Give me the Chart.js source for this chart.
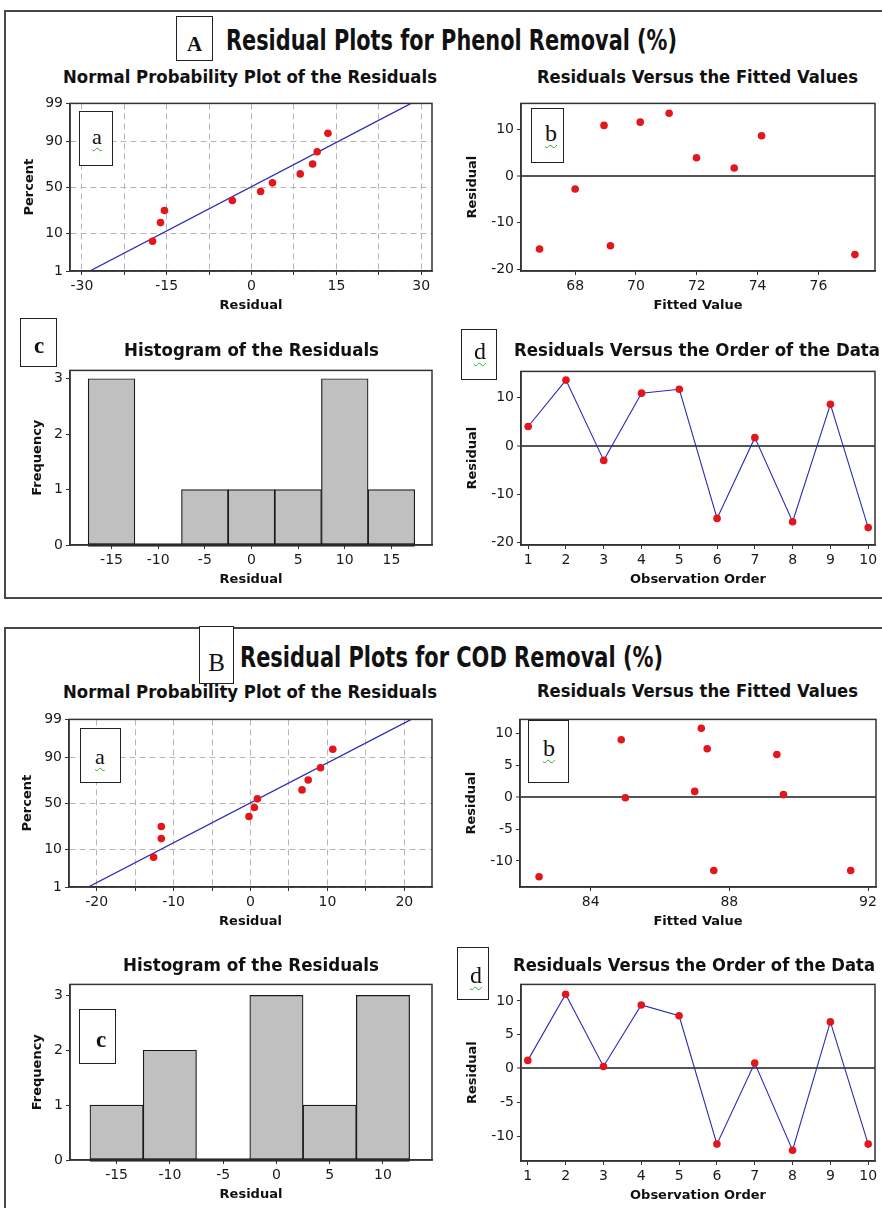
<!DOCTYPE html>
<html><head><meta charset="utf-8">
<script src="https://cdn.jsdelivr.net/npm/chart.js@4.4.1/dist/chart.umd.min.js"></script>
<style>
html,body{margin:0;padding:0;background:#fff;width:882px;height:1208px;overflow:hidden;position:relative;}
.frame{position:absolute;border:2px solid #484848;box-sizing:border-box;}
canvas{position:absolute;z-index:1;}
.lbl{position:absolute;white-space:nowrap;transform-origin:left top;color:#111;z-index:3;}
.box{position:absolute;border:1.5px solid #222;background:#fff;box-sizing:border-box;z-index:2;}
.sq{text-decoration-line:underline;text-decoration-style:wavy;text-decoration-color:#3aa53a;text-decoration-thickness:1px;text-underline-offset:3px;}
</style></head><body>
<script>
// ---------------- DATA ----------------
const nppPctTicks = [1, 10, 50, 90, 99];
const nppPercent  = [6.7, 16.3, 25.9, 35.6, 45.2, 54.8, 64.4, 74.0, 83.7, 93.3];
const orderObs    = [1, 2, 3, 4, 5, 6, 7, 8, 9, 10];
const histYTicks  = [0, 1, 2, 3];

// A: Phenol Removal (%)
const nppResidA     = [-17.5, -16.1, -15.4, -3.4, 1.6, 3.7, 8.6, 10.8, 11.6, 13.5];
const nppFitResidA  = [-28.6, 28.2];
const nppFitPctA    = [1, 99];
const nppXTicksA    = [-30, -15, 0, 15, 30];
const fittedA       = [66.83, 68.0, 68.95, 69.16, 70.14, 71.09, 71.99, 73.23, 74.13, 77.2];
const fittedResidA  = [-15.6, -2.8, 10.8, -14.9, 11.5, 13.4, 3.9, 1.7, 8.6, -16.8];
const fittedXTicksA = [68, 70, 72, 74, 76];
const residYTicksA  = [-20, -10, 0, 10];
const histBinsA     = [-15, -10, -5, 0, 5, 10, 15];
const histCountsA   = [3, 0, 1, 1, 1, 3, 1];
const orderResidA   = [4.0, 13.6, -3.0, 10.9, 11.7, -15.0, 1.7, -15.7, 8.6, -16.9];

// B: COD Removal (%)
const nppResidB     = [-12.6, -11.6, -11.6, -0.2, 0.5, 0.9, 6.7, 7.5, 9.1, 10.7];
const nppFitResidB  = [-21.1, 20.9];
const nppFitPctB    = [1, 99];
const nppXTicksB    = [-20, -10, 0, 10, 20];
const fittedB       = [82.51, 84.88, 85.0, 87.0, 87.19, 87.36, 87.55, 89.37, 89.56, 91.5];
const fittedResidB  = [-12.5, 9.0, -0.1, 0.9, 10.8, 7.6, -11.5, 6.7, 0.4, -11.5];
const fittedXTicksB = [84, 88, 92];
const residYTicksB  = [-10, -5, 0, 5, 10];
const histBinsB     = [-15, -10, -5, 0, 5, 10];
const histCountsB   = [1, 2, 0, 3, 1, 3];
const orderResidB   = [1.2, 11.0, 0.3, 9.4, 7.8, -11.2, 0.8, -12.1, 6.9, -11.2];

// ---------------- STYLE / HELPERS ----------------
const FONT = '"DejaVu Sans", Verdana, sans-serif';
const SERIF = '"Liberation Serif", "DejaVu Serif", serif';
const NARROW = '"Liberation Sans Narrow", "DejaVu Sans Condensed", "DejaVu Sans", sans-serif';
const RED = '#e3161b', BLUE = '#2b2bb8';
const YW = 70, XH = 48, PT = 10, PR = 14;

function probit(p) {
  const a=[-3.969683028665376e+01,2.209460984245205e+02,-2.759285104469687e+02,1.383577518672690e+02,-3.066479806614716e+01,2.506628277459239e+00];
  const b=[-5.447609879822406e+01,1.615858368580409e+02,-1.556989798598866e+02,6.680131188771972e+01,-1.328068155288572e+01];
  const c=[-7.784894002430293e-03,-3.223964580411365e-01,-2.400758277161838e+00,-2.549732539343734e+00,4.374664141464968e+00,2.938163982698783e+00];
  const d=[7.784695709041462e-03,3.224671290700398e-01,2.445134137142996e+00,3.754408661907416e+00];
  const pl=0.02425, ph=1-pl; let q,r;
  if (p<pl){ q=Math.sqrt(-2*Math.log(p)); return (((((c[0]*q+c[1])*q+c[2])*q+c[3])*q+c[4])*q+c[5])/((((d[0]*q+d[1])*q+d[2])*q+d[3])*q+1); }
  if (p>ph){ q=Math.sqrt(-2*Math.log(1-p)); return -(((((c[0]*q+c[1])*q+c[2])*q+c[3])*q+c[4])*q+c[5])/((((d[0]*q+d[1])*q+d[2])*q+d[3])*q+1); }
  q=p-0.5; r=q*q; return (((((a[0]*r+a[1])*r+a[2])*r+a[3])*r+a[4])*r+a[5])*q/(((((b[0]*r+b[1])*r+b[2])*r+b[3])*r+b[4])*r+1);
}

function div(cls, l, t, w, h) {
  const d = document.createElement('div'); d.className = cls;
  d.style.left = l+'px'; d.style.top = t+'px'; d.style.width = w+'px'; d.style.height = h+'px';
  document.body.appendChild(d); return d;
}
function addText(str, o) {
  const d = document.createElement('div');
  d.className = 'lbl' + (o.cls ? ' '+o.cls : '');
  d.textContent = str;
  d.style.font = `${o.weight||'normal'} ${o.size}px ${o.family||FONT}`;
  d.style.lineHeight = '1';
  d.style.top = (o.base - 0.846*o.size) + 'px';
  document.body.appendChild(d);
  const w = d.getBoundingClientRect().width;
  const sx = o.fitW ? o.fitW / w : (o.sx || 1);
  const left = o.align === 'center' ? o.x - w*sx/2 : o.x;
  d.style.left = left + 'px';
  d.style.transform = `scaleX(${sx})`;
  return d;
}
function letterBox(r, ch, o) {
  div('box', r[0], r[1], r[2]-r[0], r[3]-r[1]);
  addText(ch, Object.assign({family:SERIF, align:'center'}, o));
}
function makeCanvas(rect) {
  const c = document.createElement('canvas');
  const left = rect[0]-YW, top = rect[1]-PT;
  const w = rect[2]-left+PR, h = rect[3]-top+XH;
  c.width = w; c.height = h; c.style.left = left+'px'; c.style.top = top+'px';
  c.style.width = w+'px'; c.style.height = h+'px';
  document.body.appendChild(c);
  return c;
}
const framePlugin = { id:'frame', afterDatasetsDraw(chart){
  const {ctx, chartArea:a} = chart; ctx.save(); ctx.strokeStyle='#333'; ctx.lineWidth=1.5;
  ctx.strokeRect(a.left, a.top, a.right-a.left, a.bottom-a.top); ctx.restore(); } };

function scaleCfg(o) {
  const horiz = o.axis === 'x';
  const labelSet = o.labels;
  return {
    type:'linear', position: horiz ? 'bottom' : 'left', min:o.min, max:o.max, offset:false,
    afterBuildTicks: s => { s.ticks = o.ticks.map(v => ({value:v})); },
    afterFit: s => { if (horiz) s.height = XH; else s.width = YW; },
    ticks: { autoSkip:false, maxRotation:0, minRotation:0, padding:3, color:'#1a1a1a',
      font:{family:FONT, size:14},
      callback: o.fmt || (v => (!labelSet || labelSet.some(l => Math.abs(l-v)<1e-9)) ? String(v) : '') },
    grid: Object.assign({display:true, drawOnChartArea:false, drawTicks:true, tickLength:4,
      tickColor:'#333', tickWidth:1, offset:false}, o.grid||{}),
    border: Object.assign({display:true, color:'#333', width:1.5}, o.border||{}),
    title: { display:true, text:o.title, color:'#111', font:{family:FONT, size:13, weight:'bold'},
      padding: horiz ? {top:0, bottom:XH-35-7.8} : {top:YW-o.off-7.8, bottom:0} }
  };
}
const common = { responsive:false, animation:false, devicePixelRatio:1, events:[],
  layout:{padding:{top:PT, right:PR, left:0, bottom:0}},
  plugins:{legend:{display:false}, tooltip:{enabled:false}} };
const zeroGrid = { drawOnChartArea:true,
  color: c => (c.tick && c.tick.value === 0) ? '#555' : 'rgba(0,0,0,0)',
  lineWidth: c => (c.tick && c.tick.value === 0) ? 2 : 1 };

function nppChart(rect, resid, pct, fitX, fitP, xTicks, xr, yOff) {
  const cv = makeCanvas(rect);
  const step = (xTicks[1]-xTicks[0])/2, gridX = [];
  for (let v = xTicks[0]; v <= xTicks[xTicks.length-1]+1e-9; v += step) gridX.push(v);
  const zt = nppPctTicks.map(p => probit(p/100));
  const dashGrid = {drawOnChartArea:true, color:'#b5b5b5'};
  new Chart(cv, { type:'scatter', data:{ datasets:[
      {type:'line', showLine:true, data: fitX.map((x,i)=>({x, y:probit(fitP[i]/100)})), borderColor:BLUE, borderWidth:1.3, pointRadius:0, order:1},
      {type:'scatter', data: resid.map((x,i)=>({x, y:probit(pct[i]/100)})), pointRadius:3.8, backgroundColor:RED, borderWidth:0, order:0}
    ]},
    options: Object.assign({}, common, { scales:{
      x: scaleCfg({axis:'x', min:xr[0], max:xr[1], ticks:gridX, labels:xTicks, title:'Residual', grid:dashGrid, border:{dash:[6,4]}}),
      y: scaleCfg({axis:'y', min:zt[0], max:zt[zt.length-1], ticks:zt, fmt:(v,i)=>String(nppPctTicks[i]), title:'Percent', off:yOff, grid:dashGrid, border:{dash:[6,4]}})
    }}), plugins:[framePlugin] });
}
function fitChart(rect, fitted, resid, xTicks, yTicks, xr, yr) {
  const cv = makeCanvas(rect);
  new Chart(cv, { type:'scatter', data:{ datasets:[
      {data: fitted.map((x,i)=>({x, y:resid[i]})), pointRadius:3.8, backgroundColor:RED, borderWidth:0}
    ]},
    options: Object.assign({}, common, { scales:{
      x: scaleCfg({axis:'x', min:xr[0], max:xr[1], ticks:xTicks, title:'Fitted Value'}),
      y: scaleCfg({axis:'y', min:yr[0], max:yr[1], ticks:yTicks, title:'Residual', off:48, grid:zeroGrid})
    }}), plugins:[framePlugin] });
}
function orderChart(rect, resid, yTicks, xr, yr) {
  const cv = makeCanvas(rect);
  new Chart(cv, { type:'line', data:{ datasets:[
      {data: orderObs.map((x,i)=>({x, y:resid[i]})), borderColor:BLUE, borderWidth:1.1, tension:0,
       pointRadius:3.8, pointBackgroundColor:RED, pointBorderWidth:0, showLine:true}
    ]},
    options: Object.assign({}, common, { scales:{
      x: scaleCfg({axis:'x', min:xr[0], max:xr[1], ticks:orderObs, title:'Observation Order'}),
      y: scaleCfg({axis:'y', min:yr[0], max:yr[1], ticks:yTicks, title:'Residual', off:48, grid:zeroGrid})
    }}), plugins:[framePlugin] });
}
function histChart(rect, bins, counts, xr, ymax, yOff) {
  const cv = makeCanvas(rect);
  const bw = bins[1]-bins[0];
  new Chart(cv, { type:'bar', data:{ datasets:[
      {type:'bar', data: bins.map((x,i)=>({x, y:counts[i]})), backgroundColor:'#c0c0c0', borderColor:'#1a1a1a',
       borderWidth:1.2, borderSkipped:false, barPercentage:1, categoryPercentage:1, order:1},
      {type:'line', showLine:true, data:[{x:bins[0]-bw/2, y:0},{x:bins[bins.length-1]+bw/2, y:0}],
       borderColor:'#111', borderWidth:3, pointRadius:0, clip:6, order:0}
    ]},
    options: Object.assign({}, common, { scales:{
      x: scaleCfg({axis:'x', min:xr[0], max:xr[1], ticks:bins, title:'Residual'}),
      y: scaleCfg({axis:'y', min:0, max:ymax, ticks:histYTicks, title:'Frequency', off:yOff})
    }}), plugins:[framePlugin] });
}

// ---------------- FRAMES & TITLES ----------------
div('frame', 4, 10, 900, 589);
div('frame', 4, 627, 900, 700);

letterBox([176,16,213,61], 'A', {x:194.5, base:52, size:21, weight:'bold'});
addText('Residual Plots for Phenol Removal (%)', {x:226, base:50.5, size:28, weight:'bold', family:NARROW, fitW:451});
letterBox([199,626,234,684], 'B', {x:216.5, base:671, size:25});
addText('Residual Plots for COD Removal (%)', {x:240, base:668, size:28, weight:'bold', family:NARROW, fitW:423});

addText('Normal Probability Plot of the Residuals', {x:63, base:83, size:17, weight:'bold', fitW:374});
addText('Residuals Versus the Fitted Values', {x:537, base:83, size:17, weight:'bold', fitW:321});
addText('Histogram of the Residuals', {x:124, base:356, size:17, weight:'bold', fitW:255});
addText('Residuals Versus the Order of the Data', {x:514, base:356, size:17, weight:'bold', fitW:366});
addText('Normal Probability Plot of the Residuals', {x:63, base:698, size:17, weight:'bold', fitW:374});
addText('Residuals Versus the Fitted Values', {x:537, base:697, size:17, weight:'bold', fitW:321});
addText('Histogram of the Residuals', {x:123, base:971, size:17, weight:'bold', fitW:256});
addText('Residuals Versus the Order of the Data', {x:513, base:971, size:17, weight:'bold', fitW:362});

// ---------------- CHARTS ----------------
nppChart([70,102,432,271], nppResidA, nppPercent, nppFitResidA, nppFitPctA, nppXTicksA, [-32.1, 31.9], 40);
fitChart([521,102,875,271], fittedA, fittedResidA, fittedXTicksA, residYTicksA, [66.22, 77.86], [-20.3, 15.5]);
histChart([70,369,432,545], histBinsA, histCountsA, [-19.45, 19.35], 3.15, 32);
orderChart([521,370,875,545], orderResidA, residYTicksA, [0.81, 10.18], [-20.5, 15.4]);

nppChart([69,718,432,887], nppResidB, nppPercent, nppFitResidB, nppFitPctB, nppXTicksB, [-23.6, 23.6], 41);
fitChart([520,718,876,887], fittedB, fittedResidB, fittedXTicksB, residYTicksB, [81.96, 92.23], [-14.1, 12.2]);
histChart([70,983,432,1160], histBinsB, histCountsB, [-19.37, 14.6], 3.2, 32.5);
orderChart([521,983,875,1161], orderResidB, residYTicksB, [0.82, 10.18], [-13.7, 12.45]);

// ---------------- PANEL LETTERS ----------------
letterBox([79,111,113,166], 'a', {x:97, base:145, size:22, cls:'sq'});
letterBox([531,108,564,163], 'b', {x:551, base:141, size:24, cls:'sq'});
letterBox([20,318,57,367], 'c', {x:39, base:353, size:23, weight:'bold'});
letterBox([461,329,497,380], 'd', {x:480, base:359, size:24, cls:'sq'});
letterBox([80,728,121,783], 'a', {x:100, base:765, size:22, cls:'sq'});
letterBox([528,720,569,783], 'b', {x:549, base:756, size:24, cls:'sq'});
letterBox([79,1009,116,1064], 'c', {x:101, base:1047, size:23, weight:'bold'});
letterBox([457,947,489,1000], 'd', {x:476, base:983, size:24, cls:'sq'});
</script>
</body></html>
